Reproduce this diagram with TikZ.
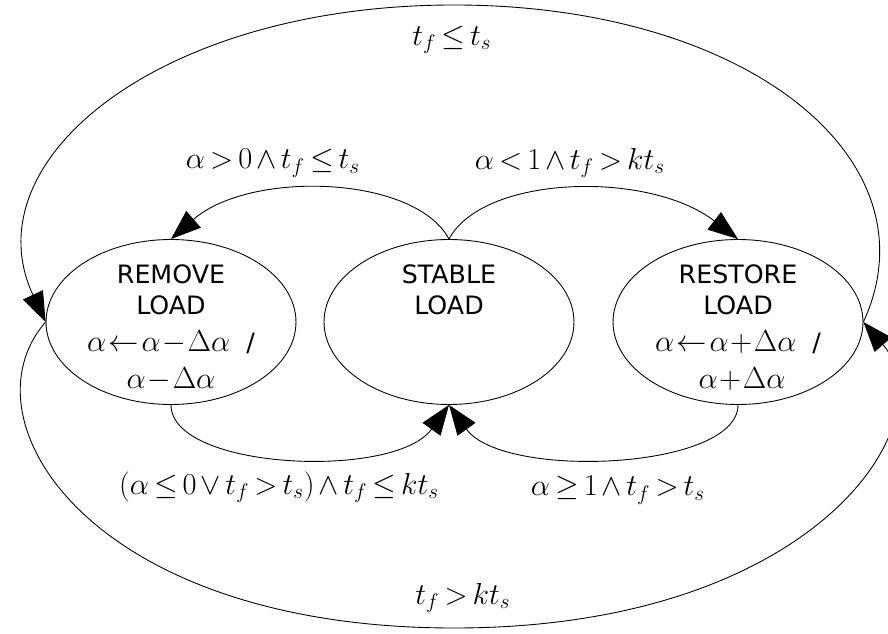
\documentclass[tikz,border=0pt]{standalone}
\usepackage[no-math]{fontspec}
\usepackage{amsmath,amssymb}
\newfontfamily\statefont{DejaVu Sans}
\usetikzlibrary{shapes.geometric, arrows.meta}
\newcommand{\tightmath}{\thickmuskip=1.5mu\relax\medmuskip=1mu\relax}
\newcommand{\guardmath}{\thickmuskip=3mu\relax\medmuskip=2.5mu\relax}
\newcommand{\smath}[1]{{\LARGE\tightmath$#1$}}
\tikzset{
  state/.style={draw, ellipse, line width=0.5pt, minimum width=5cm, minimum height=3.3cm, inner sep=0pt},
  statetext/.style={anchor=north, align=center, inner sep=0pt, font=\statefont\Large},
  trans/.style={line width=0.5pt, -{Triangle[length=0.6cm, width=0.44cm]}},
  guard/.style={font=\LARGE\guardmath}
}

\begin{document}
\begin{tikzpicture}[x=0.02cm, y=-0.02cm]
  \useasboundingbox (0,0) rectangle (888,634);

  % Estados
  \node[state] (remove) at (171,322) {};
  \node[state] (stable) at (449,322) {};
  \node[state] (restore) at (738,322) {};
  \node[statetext] (removetxt) at (171,264) {REMOVE\\LOAD\\[3pt]\smath{\alpha\leftarrow\alpha-\Delta\alpha}\ \ /\\[3pt]\smath{\alpha-\Delta\alpha}};
  \node[statetext] (stabletxt) at (449,264) {STABLE\\LOAD};
  \node[statetext] (restoretxt) at (738,264) {RESTORE\\LOAD\\[3pt]\smath{\alpha\leftarrow\alpha+\Delta\alpha}\ \ /\\[3pt]\ \smath{\alpha+\Delta\alpha}};

  % Transiciones desde el estado estable
  \draw[trans] (stable.north) .. controls (415,175) and (250,170) .. (remove.north);
  \draw[trans] (stable.north) .. controls (483,175) and (648,170) .. (restore.north);

  % Vuelta al estado estable
  \draw[trans] (remove.south) .. controls (171,470) and (395,480) .. (stable.south);
  \draw[trans] (restore.south) .. controls (738,470) and (503,480) .. (stable.south);

  % Arcos exteriores
  \draw[trans] (restore.east) .. controls (938,160) and (748,5) .. (454,5)
               .. controls (160,5) and (-30,160) .. (remove.west);
  \draw[trans] (remove.west) .. controls (-40,420) and (90,628) .. (454,628)
               .. controls (818,628) and (948,420) .. (restore.east);

  % Condiciones
  \node[guard] (gtop) at (452,40) {$t_f\leq t_s$};
  \node[guard] (gremove) at (273,163) {$\alpha>0\wedge t_f\leq t_s$};
  \node[guard] (grestore) at (570,163) {$\alpha<1\wedge t_f>kt_s$};
  \node[guard] (gback) at (279,487) {$(\alpha\leq 0\vee t_f>t_s)\wedge t_f\leq kt_s$};
  \node[guard] (gstable) at (618,490) {$\alpha\geq 1\wedge t_f>t_s$};
  \node[guard] (gbottom) at (463,598) {$t_f>kt_s$};
\end{tikzpicture}
\end{document}
